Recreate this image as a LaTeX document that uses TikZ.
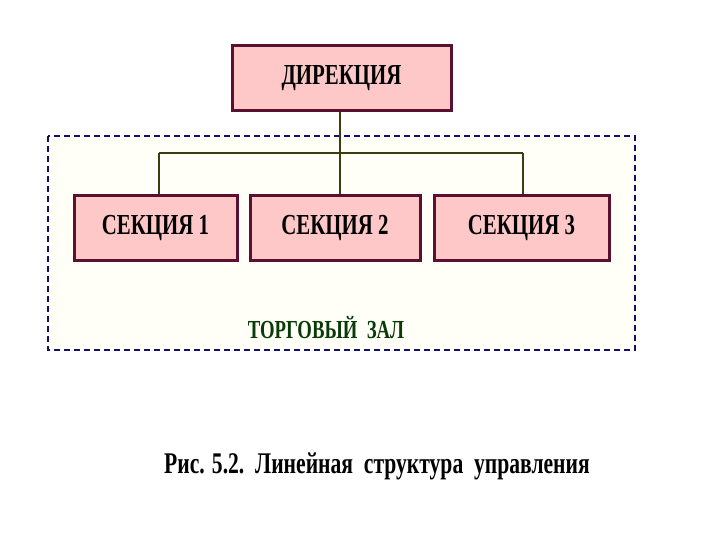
\documentclass[tikz,border=0pt]{standalone}
\usepackage{fontspec}
\setmainfont{Liberation Serif}[FakeStretch=0.72]
\definecolor{boxfill}{HTML}{FFC8C8}
\definecolor{boxline}{HTML}{5A1030}
\definecolor{linkline}{HTML}{3C3C10}
\definecolor{dashline}{HTML}{10106A}
\definecolor{hallgreen}{HTML}{0A3A0A}
\definecolor{hallfill}{HTML}{FFFFF8}
\begin{document}
\begin{tikzpicture}[x=1pt,y=-1pt,
  unit/.style={draw=boxline,fill=boxfill,line width=3pt,inner sep=0pt,font=\fontsize{29}{30}\selectfont\bfseries},
  link/.style={draw=linkline,line width=2.4pt}]
\useasboundingbox (0,0) rectangle (720,540);
\fill[white] (0,0) rectangle (720,540);
\draw[dashline,dash pattern=on 6pt off 4pt,line width=1.8pt,fill=hallfill] (48,136) rectangle (635,350);
\node[unit,minimum width=219pt,minimum height=65pt] (dir) at (341.5,78.5) {ДИРЕКЦИЯ};
\node[unit,minimum width=163pt,minimum height=64pt] (s1) at (155.5,228) {СЕКЦИЯ 1};
\node[unit,minimum width=170pt,minimum height=64pt] (s2) at (335,228) {СЕКЦИЯ 2};
\node[unit,minimum width=175pt,minimum height=64pt] (s3) at (521.5,228) {СЕКЦИЯ 3};
\coordinate (j1) at (159,153);
\coordinate (j2) at (340,153);
\coordinate (j3) at (523,153);
\draw[link] (dir.south -| j2) -- (j2);
\draw[link] (j1) -- (j3);
\draw[link] (j1) -- (j1 |- s1.north);
\draw[link] (j2) -- (j2 |- s2.north);
\draw[link] (j3) -- (j3 |- s3.north);
\node[font=\fontsize{26}{27}\selectfont\bfseries,text=hallgreen] (hall) at (326,328) {ТОРГОВЫЙ\ \ ЗАЛ};
\node[font=\fontsize{30}{31}\selectfont\bfseries] (cap) at (377,466) {Рис. 5.2.\ \ Линейная\ \ структура\ \ управления};
\end{tikzpicture}
\end{document}
